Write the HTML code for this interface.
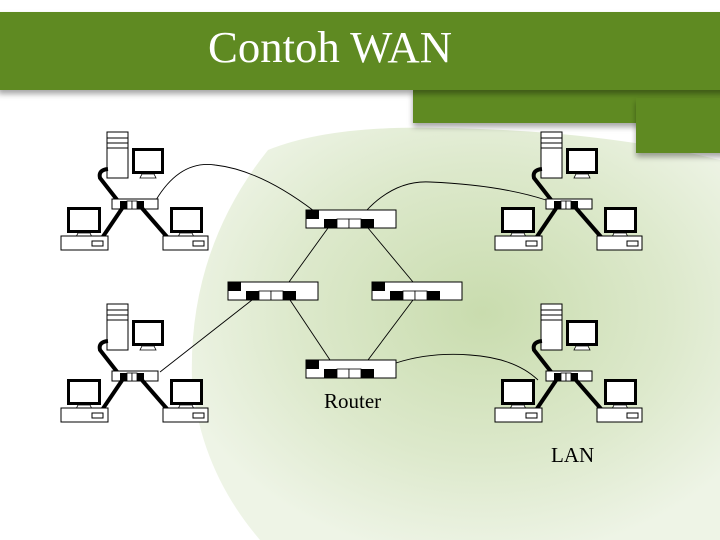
<!DOCTYPE html>
<html><head><meta charset="utf-8"><style>
html,body{margin:0;padding:0;background:#fff;}
body{width:720px;height:540px;overflow:hidden;position:relative;font-family:"Liberation Serif",serif;}
</style></head><body>
<svg width="720" height="540" viewBox="0 0 720 540" xmlns="http://www.w3.org/2000/svg" style="position:absolute;left:0;top:0">
<defs>
<radialGradient id="leaf" cx="0.55" cy="0.45" r="0.6">
<stop offset="0" stop-color="#c9dcae"/>
<stop offset="0.6" stop-color="#dde9cc"/>
<stop offset="1" stop-color="#eef4e6"/>
</radialGradient>
<filter id="sh" x="-5%" y="-20%" width="110%" height="150%"><feDropShadow dx="0" dy="4" stdDeviation="3" flood-color="#000" flood-opacity="0.35"/></filter>
<g id="lan">
<rect x="107" y="132" width="21" height="46" fill="#fff" stroke="#000" stroke-width="1"/>
<line x1="107" y1="138" x2="128" y2="138" stroke="#000"/>
<line x1="107" y1="143" x2="128" y2="143" stroke="#000"/>
<line x1="107" y1="148" x2="128" y2="148" stroke="#000"/>
<rect x="133.5" y="149.5" width="29" height="23" fill="#fff" stroke="#000" stroke-width="3"/>
<path d="M142 174 L154 174 L156 178 L140 178 Z" fill="#fff" stroke="#000" stroke-width="0.8"/>
<path d="M108 169 Q98 170 100 178 L118 201" fill="none" stroke="#000" stroke-width="4"/>
<rect x="112" y="199" width="46" height="10" fill="#fff" stroke="#000" stroke-width="1"/>
<rect x="120" y="201" width="7" height="8" fill="#000"/>
<rect x="127" y="201" width="5" height="8" fill="#fff" stroke="#000" stroke-width="0.8"/>
<rect x="132" y="201" width="5" height="8" fill="#fff" stroke="#000" stroke-width="0.8"/>
<rect x="137" y="201" width="7" height="8" fill="#000"/>
<line x1="123" y1="207" x2="102" y2="238" stroke="#000" stroke-width="4"/>
<line x1="141" y1="207" x2="168" y2="238" stroke="#000" stroke-width="4"/>
<rect x="68.5" y="208.5" width="31" height="23" fill="#fff" stroke="#000" stroke-width="3"/>
<path d="M78 233 L90 233 L92 237 L76 237 Z" fill="#fff" stroke="#000" stroke-width="0.8"/>
<rect x="61" y="236" width="47" height="14" fill="#fff" stroke="#000" stroke-width="1"/>
<rect x="92" y="241" width="11" height="5" fill="#fff" stroke="#000" stroke-width="1"/>
<rect x="171.5" y="208.5" width="30" height="23" fill="#fff" stroke="#000" stroke-width="3"/>
<path d="M180 233 L192 233 L194 237 L178 237 Z" fill="#fff" stroke="#000" stroke-width="0.8"/>
<rect x="163" y="236" width="45" height="14" fill="#fff" stroke="#000" stroke-width="1"/>
<rect x="193" y="241" width="11" height="5" fill="#fff" stroke="#000" stroke-width="1"/>
</g>
<g id="rt">
<rect x="0" y="0" width="90" height="18" fill="#fff" stroke="#000" stroke-width="1"/>
<rect x="0" y="0" width="13" height="9" fill="#000"/>
<rect x="18" y="9" width="13" height="9" fill="#000"/>
<rect x="31" y="9" width="12" height="9" fill="#fff" stroke="#000" stroke-width="0.8"/>
<rect x="43" y="9" width="12" height="9" fill="#fff" stroke="#000" stroke-width="0.8"/>
<rect x="55" y="9" width="13" height="9" fill="#000"/>
</g>
</defs>
<path d="M268 150 Q330 125 440 128 Q600 130 720 160 L720 540 L260 540 Q200 470 192 380 Q188 250 268 150 Z" fill="url(#leaf)"/>
<rect x="413" y="88" width="320" height="35" fill="#5f8a20" filter="url(#sh)"/>
<rect x="636" y="98" width="90" height="55" fill="#5f8a20" filter="url(#sh)"/>
<rect x="-2" y="12" width="730" height="78" fill="#5f8a20" filter="url(#sh)"/>
<text x="330" y="62" text-anchor="middle" font-size="44" fill="#fff" font-family="Liberation Serif, serif" textLength="244" lengthAdjust="spacingAndGlyphs">Contoh WAN</text>
<g fill="none" stroke="#000" stroke-width="0.9">
<path d="M156 200 Q180 160 215 165 Q260 170 314 211"/>
<path d="M366 211 Q395 180 430 182 Q500 185 546 200"/>
<line x1="328" y1="228" x2="289" y2="282"/>
<line x1="368" y1="228" x2="413" y2="282"/>
<line x1="290" y1="300" x2="330" y2="360"/>
<line x1="413" y1="300" x2="368" y2="360"/>
<line x1="252" y1="300" x2="160" y2="372"/>
<path d="M396 363 Q430 352 470 355 Q515 358 538 380"/>
</g>
<use href="#lan"/>
<use href="#lan" transform="translate(434,0)"/>
<use href="#lan" transform="translate(0,172)"/>
<use href="#lan" transform="translate(434,172)"/>
<use href="#rt" transform="translate(306,210)"/>
<use href="#rt" transform="translate(228,282)"/>
<use href="#rt" transform="translate(372,282)"/>
<use href="#rt" transform="translate(306,360)"/>
<text x="324" y="408" font-size="21" fill="#000" font-family="Liberation Serif, serif">Router</text>
<text x="551" y="462" font-size="21" fill="#000" font-family="Liberation Serif, serif">LAN</text>
</svg>
</body></html>
